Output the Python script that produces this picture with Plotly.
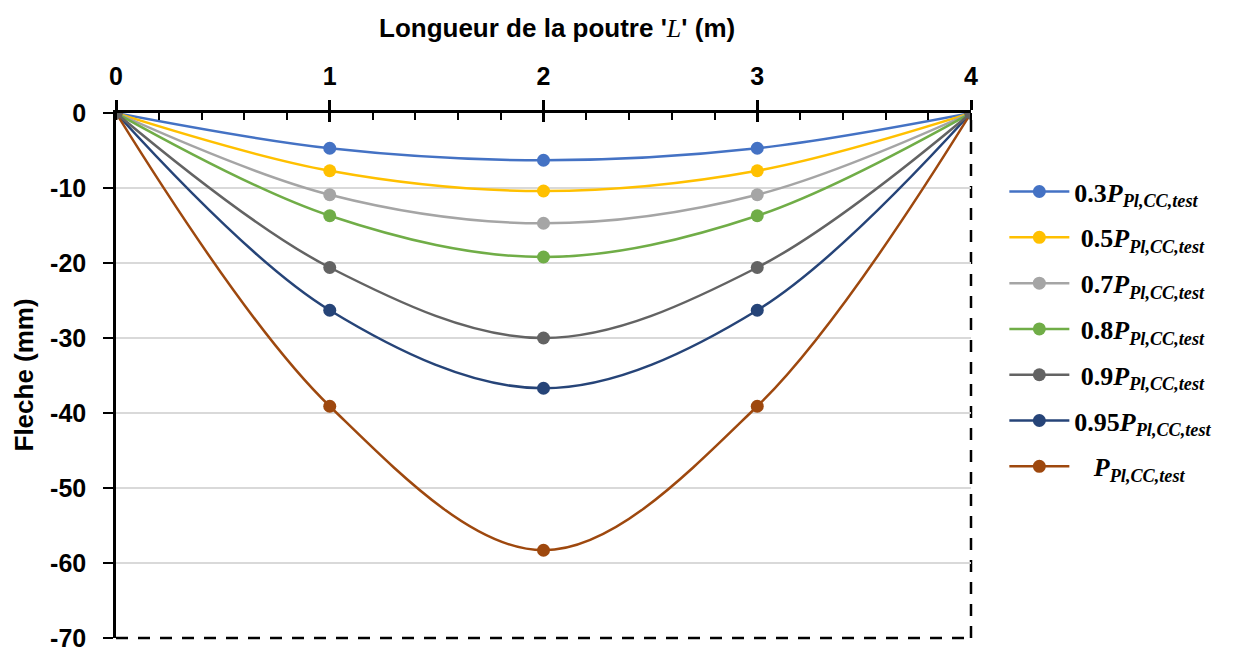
import plotly.graph_objects as go

# ---- data ----
x_pos = [0, 1, 2, 3, 4]
sub = "<sub><i>Pl,CC,test</i></sub>"
series_names = [
    "<b>0.3<i>P</i>" + sub + "</b>",
    "<b> 0.5<i>P</i>" + sub + "</b>",
    "<b> 0.7<i>P</i>" + sub + "</b>",
    "<b> 0.8<i>P</i>" + sub + "</b>",
    "<b> 0.9<i>P</i>" + sub + "</b>",
    "<b>0.95<i>P</i>" + sub + "</b>",
    "<b>   <i>P</i>" + sub + "</b>",
]
s_03 = [0, -4.7, -6.3, -4.7, 0]
s_05 = [0, -7.7, -10.4, -7.7, 0]
s_07 = [0, -10.9, -14.7, -10.9, 0]
s_08 = [0, -13.7, -19.2, -13.7, 0]
s_09 = [0, -20.6, -30.0, -20.6, 0]
s_095 = [0, -26.3, -36.7, -26.3, 0]
s_10 = [0, -39.1, -58.3, -39.1, 0]
series_values = [s_03, s_05, s_07, s_08, s_09, s_095, s_10]
colors = ["#4472C4", "#FFC000", "#A5A5A5", "#70AD47", "#636363", "#264478", "#9E480E"]
x_ticks = [0, 1, 2, 3, 4]
y_ticks = [0, -10, -20, -30, -40, -50, -60, -70]
y_ticktext = ["0", "-10", "-20", "-30", "-40", "-50", "-60", "-70"]

fig = go.Figure()
draw_order = [0, 1, 2, 3, 5, 6, 4]  # dark gray drawn last (its markers on top at ends)
for i in draw_order:
    fig.add_trace(go.Scatter(
        x=x_pos, y=series_values[i], name=series_names[i],
        mode="lines+markers",
        line=dict(color=colors[i], width=2.5, shape="spline", smoothing=1),
        marker=dict(color=colors[i], size=13),
        legendrank=i + 1, legendgroup=str(i),
    ))

# overlay axis to give the crossing part of the major ticks
fig.add_trace(go.Scatter(x=[0], y=[0], xaxis="x2", mode="markers",
                         marker=dict(opacity=0), showlegend=False, hoverinfo="skip"))

sans = "Liberation Sans"
fig.update_layout(
    width=1239, height=650,
    margin=dict(l=108, r=276, t=105, b=20),
    plot_bgcolor="white", paper_bgcolor="white",
    showlegend=True,
    legend=dict(
        x=1.039, y=0.895, xanchor="left", yanchor="top",
        font=dict(family="Liberation Serif", size=26, color="black"),
        tracegroupgap=9, itemwidth=60, bgcolor="rgba(0,0,0,0)",
    ),
    xaxis=dict(
        range=[0, 4], side="top", tickvals=x_ticks, automargin=False,
        showgrid=False, zeroline=False,
        showline=True, linecolor="black", linewidth=2.5,
        ticks="outside", ticklen=10, tickwidth=2.5, tickcolor="black",
        minor=dict(ticks="inside", dtick=0.2, ticklen=7, tickwidth=2, tickcolor="black", showgrid=False),
        tickfont=dict(family=sans, size=25, color="black", weight="bold"),
        ticklabelstandoff=5,
    ),
    xaxis2=dict(
        range=[0, 4], overlaying="x", side="top", tickvals=x_ticks, automargin=False,
        showticklabels=False, showgrid=False, zeroline=False, showline=False,
        ticks="inside", ticklen=9, tickwidth=2.5, tickcolor="black",
    ),
    yaxis=dict(
        range=[-70.001, 0], tickvals=y_ticks, ticktext=y_ticktext, automargin=False,
        showgrid=True, gridcolor="#D9D9D9", gridwidth=1.5,
        zeroline=False,
        showline=True, linecolor="black", linewidth=2.5,
        ticks="outside", ticklen=10, tickwidth=2, tickcolor="black",
        tickfont=dict(family=sans, size=25, color="black", weight="bold"),
        ticklabelstandoff=12,
    ),
)

# dashed right and bottom borders
fig.add_shape(type="line", xref="x domain", yref="y domain", x0=1, x1=1, y0=0, y1=1,
              line=dict(color="black", width=2.5, dash="12px,10px"), layer="below")
fig.add_shape(type="line", xref="x domain", yref="y domain", x0=0, x1=1, y0=0, y1=0,
              line=dict(color="black", width=2.5, dash="12px,10px"), layer="below")

# titles
fig.add_annotation(
    text="<b>Longueur de la poutre '</b><i><span style='font-family:Liberation Serif'>L</span></i><b>' (m)</b>",
    xref="paper", yref="paper", x=0.516, y=1.0, yshift=85, xanchor="center", yanchor="middle",
    showarrow=False, font=dict(family=sans, size=26, color="black"),
)
fig.add_annotation(
    text="<b>Fleche (mm)</b>", textangle=-90,
    xref="paper", yref="paper", x=0, xshift=-93, y=0.5, xanchor="center", yanchor="middle",
    showarrow=False, font=dict(family=sans, size=26, color="black"),
)

fig.write_html("out.html")
